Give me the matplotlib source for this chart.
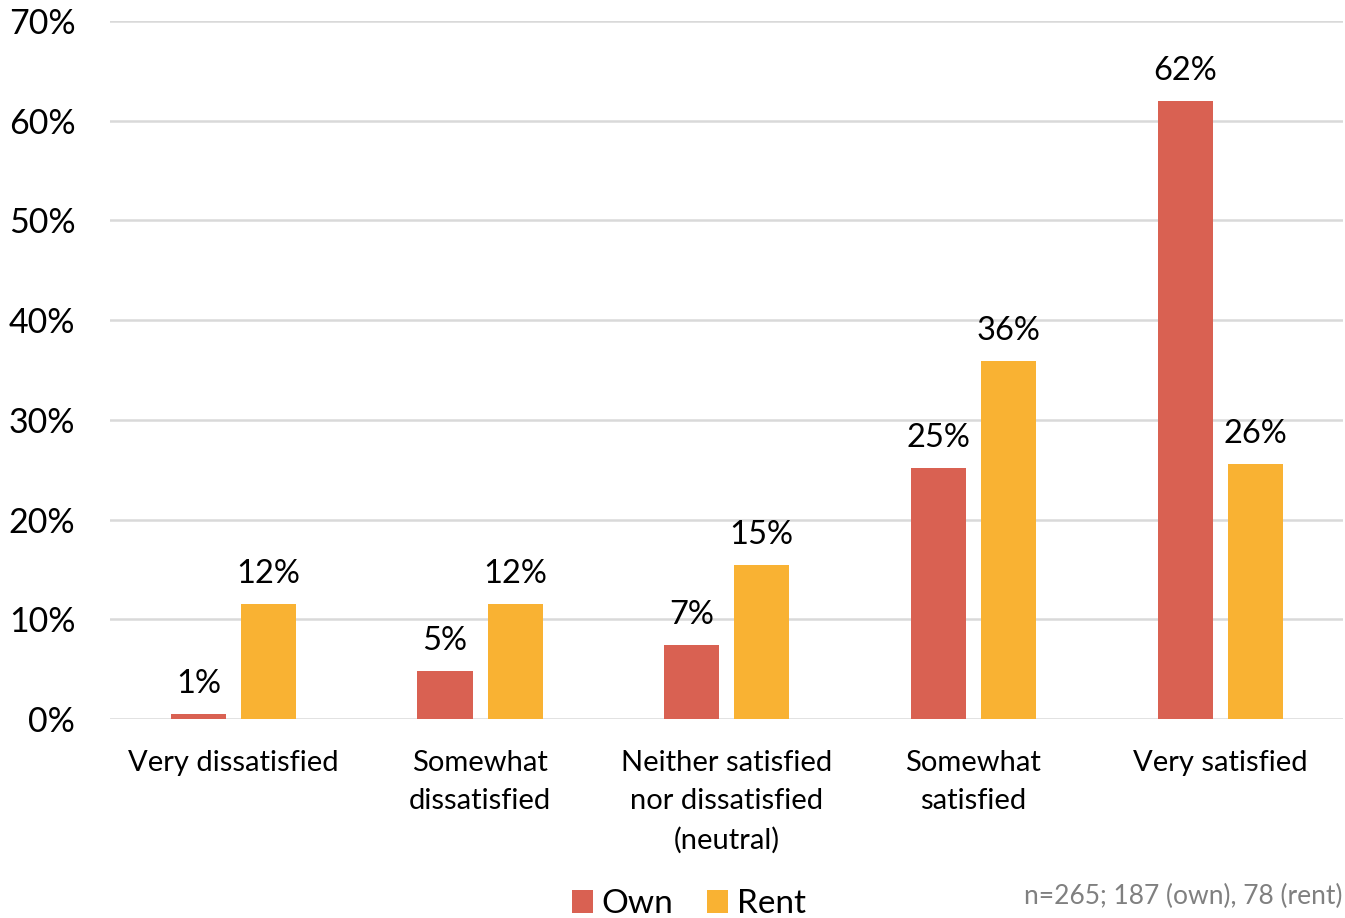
import numpy as np
import matplotlib.pyplot as plt

plt.rcParams['font.family'] = ['Lato', 'DejaVu Sans']

categories = ['Very dissatisfied', 'Somewhat\ndissatisfied',
              'Neither satisfied\nnor dissatisfied\n(neutral)',
              'Somewhat\nsatisfied', 'Very satisfied']
own = [0.5, 4.8, 7.4, 25.2, 62.0]
rent = [11.5, 11.5, 15.4, 35.9, 25.6]
own_labels = ['1%', '5%', '7%', '25%', '62%']
rent_labels = ['12%', '12%', '15%', '36%', '26%']

own_color = '#D96152'
rent_color = '#F9B233'

fig = plt.figure(figsize=(13.45, 9.18), dpi=100)
ax = fig.add_axes([0.0818, 0.2168, 0.917, 0.7603])

x = np.arange(len(categories))
w = 0.223
off = 0.142
b1 = ax.bar(x - off, own, w, color=own_color, label='Own', zorder=3)
b2 = ax.bar(x + off, rent, w, color=rent_color, label='Rent', zorder=3)

for bars, labs in [(b1, own_labels), (b2, rent_labels)]:
    for b, t in zip(bars, labs):
        ax.text(b.get_x() + b.get_width() / 2, b.get_height() + 1.5, t,
                ha='center', va='bottom', fontsize=23.5, color='black')

ax.set_xlim(-0.5, 4.5)
ax.set_ylim(0, 70)
ax.set_yticks(range(0, 71, 10))
ax.set_yticklabels([f'{v}%' for v in range(0, 71, 10)], fontsize=24.5)
ax.set_xticks(x)
ax.set_xticklabels(categories, fontsize=21, linespacing=1.6, va='top')
ax.tick_params(axis='both', length=0)
ax.tick_params(axis='y', pad=25)
ax.tick_params(axis='x', pad=22)
for s in ax.spines.values():
    s.set_visible(False)
ax.grid(axis='y', color='#D9D9D9', linewidth=1.8, zorder=0)
ax.set_axisbelow(True)

fig.legend(handles=[b1, b2], labels=['Own', 'Rent'], loc='center',
           bbox_to_anchor=(0.512, 0.015), ncol=2, frameon=False,
           fontsize=24, handlelength=0.65, handleheight=0.65,
           handletextpad=0.25, columnspacing=1.0)

fig.text(0.9985, 0.023, 'n=265; 187 (own), 78 (rent)', ha='right',
         va='center', fontsize=19, color='#808080')

fig.savefig('out.png', dpi=100)
